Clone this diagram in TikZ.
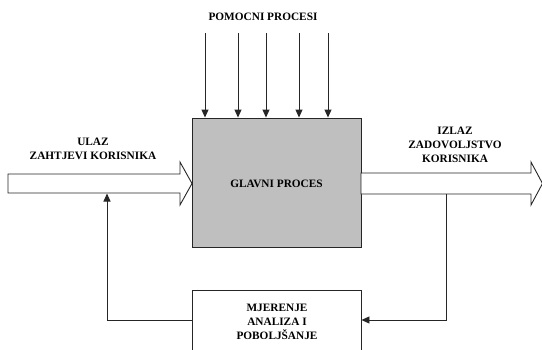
\documentclass[tikz,border=0pt]{standalone}
\usepackage{fontspec}
\setmainfont{Liberation Serif}
\usetikzlibrary{arrows.meta}
\begin{document}
\begin{tikzpicture}[x=1pt,y=-1pt,
  lbl/.style={font=\bfseries\fontsize{11.3}{14.2}\selectfont, align=center, inner sep=0pt},
  ln/.style={line width=0.9pt, draw=black!85},
  tip/.style={ln, -{Triangle[length=8pt,width=7pt]}},
  blockarrow/.style={ln, fill=white, line join=miter}]
\useasboundingbox (0,0) rectangle (542,349);
\clip (0,0) rectangle (542,349);
% main process
\node[draw=black!85, line width=0.9pt, fill=black!25, minimum width=169pt, minimum height=129pt, inner sep=0pt] (main) at (276.5,182.5) {};
\node[lbl] (mainlbl) at (276.5,184) {GLAVNI PROCES};
% support processes
\node[lbl] (sup) at (263,17) {POMOCNI PROCESI};
\foreach \i/\x in {1/205,2/238,3/266,4/299,5/328}{
  \coordinate (s\i) at (\x,33);
  \draw[tip] (s\i) -- (s\i |- main.north);
}
% input block arrow
\draw[blockarrow] (8,174) -- (180,174) -- (180,162) -- (192,183.5) -- (180,205) -- (180,193) -- (8,193) -- cycle;
\node[lbl] (inlbl) at (93,149) {ULAZ\\ZAHTJEVI KORISNIKA};
% output block arrow
\draw[blockarrow] (361,173) -- (531,173) -- (531,162) -- (542.5,183.5) -- (531,205) -- (531,194) -- (361,194) -- cycle;
\node[lbl] (outlbl) at (455,145) {IZLAZ\\ZADOVOLJSTVO\\KORISNIKA};
% measurement box
\node[draw=black!85, line width=0.9pt, fill=white, minimum width=169pt, minimum height=80pt, inner sep=0pt, anchor=north] (meas) at (276.5,290) {};
\node[lbl] (measlbl) at (277,322) {MJERENJE\\ANALIZA I\\POBOLJŠANJE};
% feedback
\coordinate (outtap) at (446,194);
\coordinate (fbR) at (446,320);
\coordinate (fbL) at (107,320);
\coordinate (intap) at (107,193.5);
\draw[tip] (outtap) -- (fbR) -- (meas.east |- fbR);
\draw[tip] (meas.west |- fbR) -- (fbL) -- (intap);
\end{tikzpicture}
\end{document}
